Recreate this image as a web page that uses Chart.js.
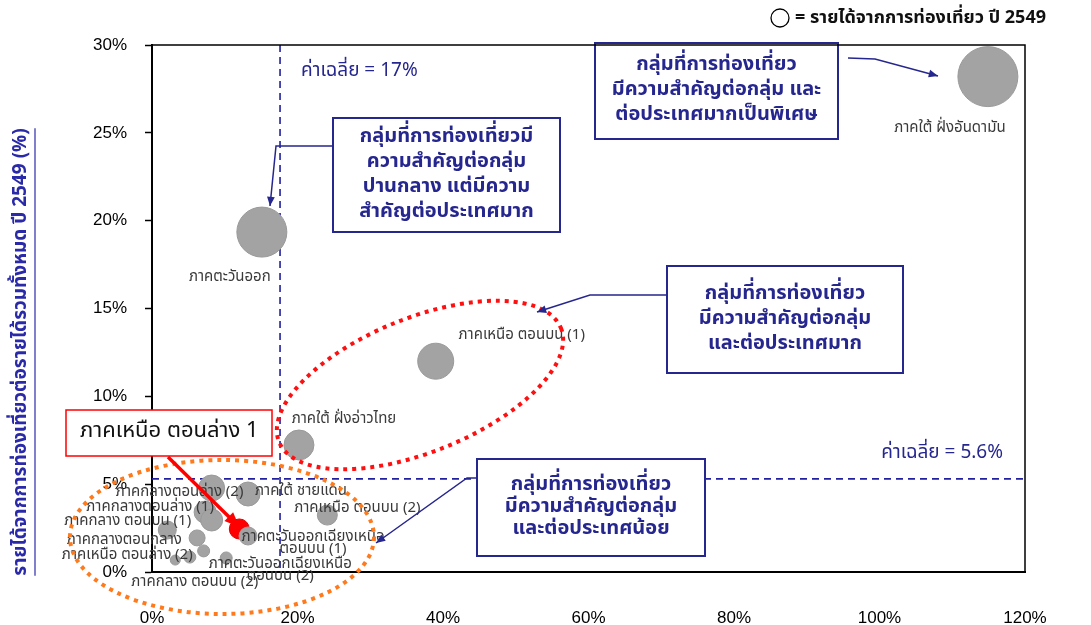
<!DOCTYPE html>
<html lang="th">
<head>
<meta charset="utf-8">
<title>Tourism bubble chart</title>
<script src="https://cdn.jsdelivr.net/npm/chart.js@4.4.1/dist/chart.umd.min.js"></script>
<style>
    html, body { margin: 0; padding: 0; background: #fff; }
    #wrap { position: relative; width: 1091px; height: 625px; }
</style>
</head>
<body>
<div id="wrap"><canvas id="chart" width="1091" height="625"></canvas></div>
<script>
/* ============================================================
   Tourism importance by region, 2549 — bubble chart
   x: share of national tourism revenue (%)
   y: tourism revenue / total regional revenue (%)
   ============================================================ */

const regions = [
    'ภาคใต้ ฝั่งอันดามัน', 'ภาคตะวันออก', 'ภาคเหนือ ตอนบน (1)', 'ภาคใต้ ฝั่งอ่าวไทย',
    'ภาคใต้ ชายแดน', 'ภาคกลางตอนล่าง (2)', 'ภาคกลางตอนล่าง (1)', 'ภาคกลาง ตอนบน (1)',
    'ภาคกลางตอนกลาง', 'ภาคเหนือ ตอนล่าง (2)', 'ภาคเหนือ ตอนบน (2)', 'ภาคเหนือ ตอนล่าง (1)',
    'ภาคตะวันออกเฉียงเหนือ ตอนบน (1)', 'ภาคตะวันออกเฉียงเหนือ ตอนบน (2)', 'ภาคกลาง ตอนบน (2)',
    'ภาคตะวันออกเฉียงเหนือ ตอนล่าง (1)', 'ภาคตะวันออกเฉียงเหนือ ตอนล่าง (2)'
];
const nationalShare = [114.9, 15.1, 39.0, 20.2, 13.2, 8.2, 7.3, 8.2, 2.1, 3.2, 24.1, 12.0, 13.2, 10.2, 5.2, 6.2, 7.1];
const regionalShare = [28.2, 19.35, 12.0, 7.23, 4.44, 4.78, 3.41, 2.96, 2.39, 0.68, 3.24, 2.45, 2.05, 0.8, 0.85, 1.94, 1.2];
const revenue2549   = [900, 625, 324, 225, 144, 169, 121, 121, 81, 25, 100, 100, 81, 36, 36, 64, 36];

const highlighted = 'ภาคเหนือ ตอนล่าง (1)';
const highlightText = 'ภาคเหนือ ตอนล่าง 1';

const xTicks = [0, 20, 40, 60, 80, 100, 120];
const yTicks = [0, 5, 10, 15, 20, 25, 30];

const avgNational = 17.6;   // drawn position of the dashed line
const avgRegional = 5.3;
const avgNationalText = 'ค่าเฉลี่ย = 17%';
const avgRegionalText = 'ค่าเฉลี่ย = 5.6%';

const yTitle = 'รายได้จากการท่องเที่ยวต่อรายได้รวมทั้งหมด ปี 2549 (%)';
const legendText = '= รายได้จากการท่องเที่ยว ปี 2549';

const groupBoxes = [
    ['กลุ่มที่การท่องเที่ยว', 'มีความสำคัญต่อกลุ่ม และ', 'ต่อประเทศมากเป็นพิเศษ'],
    ['กลุ่มที่การท่องเที่ยวมี', 'ความสำคัญต่อกลุ่ม', 'ปานกลาง แต่มีความ', 'สำคัญต่อประเทศมาก'],
    ['กลุ่มที่การท่องเที่ยว', 'มีความสำคัญต่อกลุ่ม', 'และต่อประเทศมาก'],
    ['กลุ่มที่การท่องเที่ยว', 'มีความสำคัญต่อกลุ่ม', 'และต่อประเทศน้อย']
];

// label text per region (null = no label) and pixel offset from bubble centre
const labelLines = [
    ['ภาคใต้ ฝั่งอันดามัน'], ['ภาคตะวันออก'], ['ภาคเหนือ ตอนบน (1)'], ['ภาคใต้ ฝั่งอ่าวไทย'],
    ['ภาคใต้ ชายแดน'], ['ภาคกลางตอนล่าง (2)'], ['ภาคกลางตอนล่าง (1)'], ['ภาคกลาง ตอนบน (1)'],
    ['ภาคกลางตอนกลาง'], ['ภาคเหนือ ตอนล่าง (2)'], ['ภาคเหนือ ตอนบน (2)'], null,
    ['ภาคตะวันออกเฉียงเหนือ', 'ตอนบน (1)'], ['ภาคตะวันออกเฉียงเหนือ', 'ตอนบน (2)'], ['ภาคกลาง ตอนบน (2)'],
    null, null
];
const labelOffsets = [
    [-38, 52], [-32, 46], [86, -25], [45, -25],
    [53, -2], [-32, 5], [-55, -4], [-84, 2],
    [-43, 11], [-48, -4], [30, -6], [0, 0],
    [65, 8], [54, 13], [5, 26],
    [0, 0], [0, 0]
];

const NAVY = '#26268f';
const THAI = '"Noto Sans Thai", "Noto Sans", Tahoma, sans-serif';

document.addEventListener('DOMContentLoaded', () => {
    initChart();
});

function drawArrow(ctx, pts, color, width, head) {
    ctx.save();
    ctx.strokeStyle = color;
    ctx.fillStyle = color;
    ctx.lineWidth = width;
    ctx.beginPath();
    ctx.moveTo(pts[0][0], pts[0][1]);
    for (let i = 1; i < pts.length; i++) ctx.lineTo(pts[i][0], pts[i][1]);
    ctx.stroke();
    const [x1, y1] = pts[pts.length - 2];
    const [x2, y2] = pts[pts.length - 1];
    const a = Math.atan2(y2 - y1, x2 - x1);
    ctx.beginPath();
    ctx.moveTo(x2, y2);
    ctx.lineTo(x2 - head * Math.cos(a - 0.4), y2 - head * Math.sin(a - 0.4));
    ctx.lineTo(x2 - head * Math.cos(a + 0.4), y2 - head * Math.sin(a + 0.4));
    ctx.closePath();
    ctx.fill();
    ctx.restore();
}

function drawBox(ctx, x, y, w, h, lines, lineH, opts) {
    ctx.save();
    ctx.fillStyle = '#fff';
    ctx.fillRect(x, y, w, h);
    ctx.strokeStyle = opts.border;
    ctx.lineWidth = opts.borderWidth || 2;
    ctx.strokeRect(x, y, w, h);
    ctx.fillStyle = opts.color;
    ctx.font = opts.font;
    ctx.textAlign = opts.align || 'center';
    ctx.textBaseline = 'middle';
    const tx = opts.align === 'left' ? x + opts.padX : x + w / 2;
    const startY = y + h / 2 - (lines.length - 1) * lineH / 2;
    lines.forEach((t, i) => ctx.fillText(t, tx, startY + i * lineH));
    ctx.restore();
}

function dottedEllipse(ctx, cx, cy, rx, ry, rot, color) {
    ctx.save();
    ctx.strokeStyle = color;
    ctx.lineWidth = 4;
    ctx.setLineDash([4, 5]);
    ctx.beginPath();
    ctx.ellipse(cx, cy, rx, ry, rot, 0, Math.PI * 2);
    ctx.stroke();
    ctx.restore();
}

const overlayPlugin = {
    id: 'overlay',
    beforeDatasetsDraw(chart) {
        const { ctx, chartArea: a, scales: { x, y } } = chart;
        ctx.save();
        ctx.strokeStyle = '#2020a0';
        ctx.lineWidth = 1.6;
        ctx.setLineDash([7, 5]);
        const vx = x.getPixelForValue(avgNational);
        const hy = y.getPixelForValue(avgRegional);
        ctx.beginPath();
        ctx.moveTo(vx, a.top); ctx.lineTo(vx, a.bottom);
        ctx.moveTo(a.left, hy); ctx.lineTo(a.right, hy);
        ctx.stroke();
        ctx.restore();

        ctx.save();
        ctx.fillStyle = NAVY;
        ctx.font = '19px ' + THAI;
        ctx.textBaseline = 'middle';
        ctx.textAlign = 'left';
        ctx.fillText(avgNationalText, vx + 21, 72);
        ctx.textAlign = 'right';
        ctx.fillText(avgRegionalText, a.right - 22, hy - 25);
        ctx.restore();
    },
    afterDatasetsDraw(chart) {
        const { ctx, scales: { x, y } } = chart;

        // bubble labels
        ctx.save();
        ctx.fillStyle = '#3a3a3a';
        ctx.font = '15px ' + THAI;
        ctx.textAlign = 'center';
        ctx.textBaseline = 'middle';
        regions.forEach((r, i) => {
            const lines = labelLines[i];
            if (!lines) return;
            const px = x.getPixelForValue(nationalShare[i]) + labelOffsets[i][0];
            const py = y.getPixelForValue(regionalShare[i]) + labelOffsets[i][1];
            const y0 = py - (lines.length - 1) * 6;
            lines.forEach((t, k) => ctx.fillText(t, px, y0 + k * 12));
        });
        ctx.restore();

        // group ellipses
        dottedEllipse(ctx, 420, 385, 152, 67, -22 * Math.PI / 180, '#ff1010');
        dottedEllipse(ctx, 222, 537, 152, 77, 0, '#ff7a1c');

        // group boxes with arrows
        const boxFont = 'bold 20px ' + THAI;
        drawBox(ctx, 595, 43, 243, 96, groupBoxes[0], 25, { border: NAVY, color: NAVY, font: boxFont });
        drawArrow(ctx, [[848, 58], [875, 59], [938, 76]], NAVY, 1.5, 10);
        drawBox(ctx, 333, 118, 227, 114, groupBoxes[1], 25, { border: NAVY, color: NAVY, font: boxFont });
        drawArrow(ctx, [[332, 146], [276, 146], [270, 206]], NAVY, 1.5, 10);
        drawBox(ctx, 667, 266, 236, 107, groupBoxes[2], 25, { border: NAVY, color: NAVY, font: boxFont });
        drawArrow(ctx, [[666, 295], [590, 295], [537, 312]], NAVY, 1.5, 10);
        drawBox(ctx, 477, 459, 228, 97, groupBoxes[3], 22, { border: NAVY, color: NAVY, font: boxFont });
        drawArrow(ctx, [[477, 478], [467, 478], [376, 543]], NAVY, 1.5, 10);

        // highlighted region call-out
        const hi = regions.indexOf(highlighted);
        const hx = x.getPixelForValue(nationalShare[hi]);
        const hyp = y.getPixelForValue(regionalShare[hi]);
        drawBox(ctx, 66, 410, 206, 46, [highlightText], 20,
            { border: '#ff0000', color: '#111', font: '22px ' + THAI, align: 'left', padX: 14, borderWidth: 1.5 });
        drawArrow(ctx, [[168, 457], [hx, hyp - 2]], '#ff0000', 3.5, 16);
    },
    afterDraw(chart) {
        const { ctx, chartArea: a } = chart;
        // frame (top, right)
        ctx.save();
        ctx.strokeStyle = '#000';
        ctx.lineWidth = 1.5;
        ctx.beginPath();
        ctx.moveTo(a.left, a.top); ctx.lineTo(a.right, a.top); ctx.lineTo(a.right, a.bottom);
        ctx.stroke();
        ctx.restore();

        // size legend
        ctx.save();
        ctx.strokeStyle = '#000';
        ctx.lineWidth = 1.3;
        ctx.beginPath();
        ctx.arc(780, 18, 9, 0, Math.PI * 2);
        ctx.stroke();
        ctx.fillStyle = '#111';
        ctx.font = 'bold 18px ' + THAI;
        ctx.textBaseline = 'middle';
        ctx.fillText(legendText, 795, 19);
        ctx.restore();

        // y-axis title, underlined
        ctx.save();
        ctx.translate(22, 352);
        ctx.rotate(-Math.PI / 2);
        ctx.fillStyle = '#2a2aa8';
        ctx.font = 'bold 19px ' + THAI;
        ctx.textAlign = 'center';
        ctx.textBaseline = 'middle';
        ctx.fillText(yTitle, 0, 0);
        const w = ctx.measureText(yTitle).width;
        ctx.strokeStyle = '#2a2aa8';
        ctx.lineWidth = 1.2;
        ctx.beginPath();
        ctx.moveTo(-w / 2, 13); ctx.lineTo(w / 2, 13);
        ctx.stroke();
        ctx.restore();
    }
};

function initChart() {
    const ctx = document.getElementById('chart').getContext('2d');

    const points = regions.map((r, i) => ({
        x: nationalShare[i],
        y: regionalShare[i],
        r: Math.sqrt(revenue2549[i])
    }));
    const fills = regions.map(r => r === highlighted ? '#ff0000' : '#a3a3a3');
    const borders = regions.map(r => r === highlighted ? '#e00000' : '#999999');

    new Chart(ctx, {
        type: 'bubble',
        data: {
            datasets: [{
                label: 'รายได้จากการท่องเที่ยว ปี 2549',
                data: points,
                backgroundColor: fills,
                borderColor: borders,
                borderWidth: 1,
                clip: false
            }]
        },
        options: {
            responsive: false,
            animation: false,
            events: [],
            layout: { padding: { top: 45, right: 66, left: 0, bottom: 0 } },
            plugins: {
                legend: { display: false },
                tooltip: { enabled: false }
            },
            scales: {
                x: {
                    min: 0, max: 120,
                    afterBuildTicks: s => { s.ticks = xTicks.map(v => ({ value: v })); },
                    afterFit: s => { s.height = 53; },
                    grid: { drawOnChartArea: false, drawTicks: false },
                    border: { color: '#000', width: 2 },
                    ticks: {
                        padding: 36,
                        color: '#000',
                        font: { family: 'Liberation Sans', size: 17 },
                        callback: v => v + '%'
                    }
                },
                y: {
                    min: 0, max: 30,
                    afterBuildTicks: s => { s.ticks = yTicks.map(v => ({ value: v })); },
                    afterFit: s => { s.width = 152; },
                    grid: { drawOnChartArea: false, drawTicks: true, tickLength: 7, color: '#000', tickWidth: 1.5 },
                    border: { color: '#000', width: 2 },
                    ticks: {
                        padding: 18,
                        color: '#000',
                        font: { family: 'Liberation Sans', size: 17 },
                        callback: v => v + '%'
                    }
                }
            }
        },
        plugins: [overlayPlugin]
    });
}
</script>
</body>
</html>
